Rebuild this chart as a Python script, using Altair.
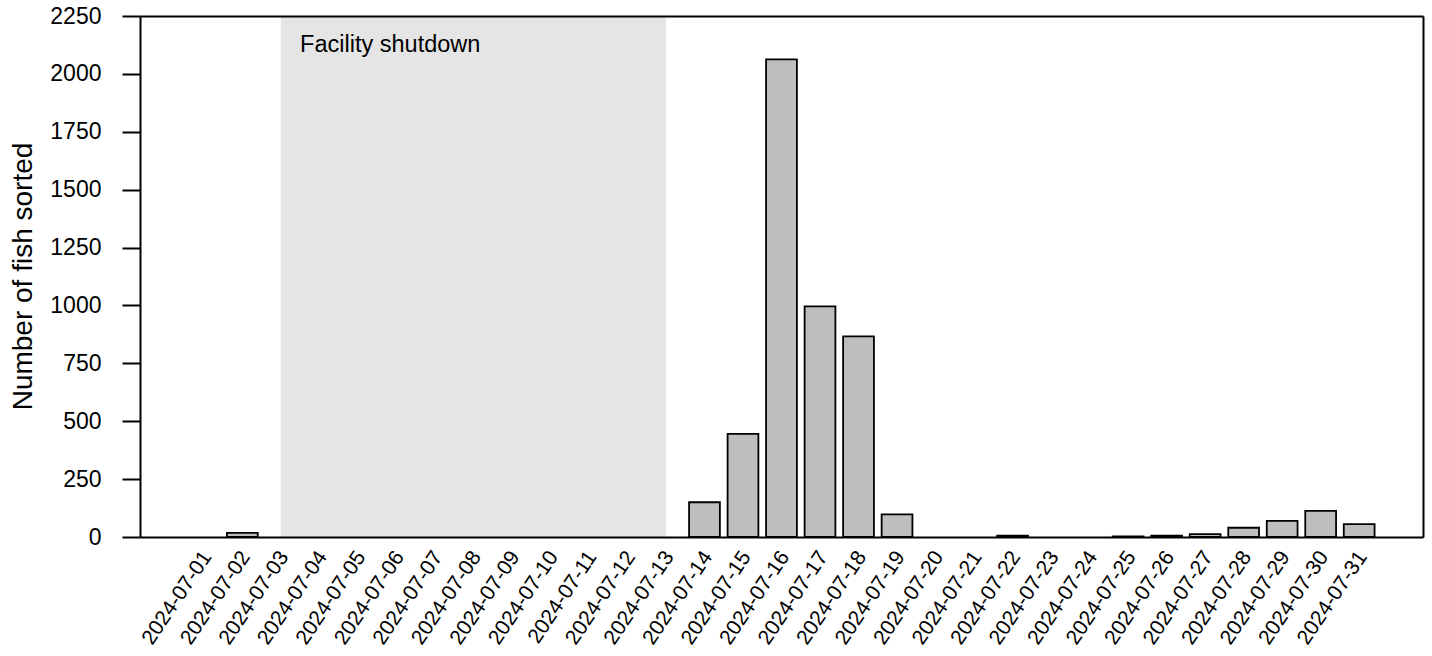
import altair as alt
import pandas as pd

# Daily counts of fish sorted, July 2024 (None = facility closed)
dates = [
    "2024-07-01", "2024-07-02", "2024-07-03", "2024-07-04", "2024-07-05",
    "2024-07-06", "2024-07-07", "2024-07-08", "2024-07-09", "2024-07-10",
    "2024-07-11", "2024-07-12", "2024-07-13", "2024-07-14", "2024-07-15",
    "2024-07-16", "2024-07-17", "2024-07-18", "2024-07-19", "2024-07-20",
    "2024-07-21", "2024-07-22", "2024-07-23", "2024-07-24", "2024-07-25",
    "2024-07-26", "2024-07-27", "2024-07-28", "2024-07-29", "2024-07-30",
    "2024-07-31",
]
fish_sorted = [
    0, 18, 0, None, None, None, None, None, None, None, None, None, 0,
    150, 445, 2063, 996, 866, 98, 0, 0, 6, 0, 0, 3, 6, 12, 40, 70, 113, 56,
]
y_ticks = [0, 250, 500, 750, 1000, 1250, 1500, 1750, 2000, 2250]

shutdown_start = 3   # 2024-07-03
shutdown_end = 13    # 2024-07-13
shutdown_label = "Facility shutdown"
label_day = 3.5
label_count = 2095

FONT = "Liberation Sans"
W, H = 1283, 521

days = [int(d[-2:]) for d in dates]
df = pd.DataFrame({"day": days, "date": dates, "fish": fish_sorted})
shade_df = pd.DataFrame({"start": [shutdown_start], "end": [shutdown_end],
                         "lo": [y_ticks[0]], "hi": [y_ticks[-1]]})
note_df = pd.DataFrame({"x": [label_day], "y": [label_count], "label": [shutdown_label]})

x_scale = alt.Scale(domain=[-0.657, 32.657], nice=False, zero=False, padding=0)
y_scale = alt.Scale(domain=[y_ticks[0], y_ticks[-1]], nice=False, padding=0)

label_lookup = "[" + ",".join(f"'{d}'" for d in dates) + "][datum.value - 1]"

x_axis = alt.Axis(
    orient="bottom", values=days, labelExpr=label_lookup, title=None,
    labelAngle=-56, labelAlign="right", labelBaseline="middle",
    labelFont=FONT, labelFontSize=21, labelColor="black",
    labelPadding=16, labelOffset=3,
    labelOverlap=False, labelBound=False, labelFlush=False,
    ticks=False, tickSize=0, domain=True, domainColor="black", domainWidth=2,
    grid=False, zindex=1,
)
y_axis = alt.Axis(
    orient="left", values=y_ticks, format="d", title="Number of fish sorted",
    labelFont=FONT, labelFontSize=23, labelColor="black", labelPadding=21,
    labelOverlap=False, labelFlush=False,
    ticks=True, tickSize=18, tickWidth=2, tickColor="black",
    domain=True, domainColor="black", domainWidth=2, grid=False,
    titleFont=FONT, titleFontSize=28, titleFontWeight="normal", titleColor="black",
    titleAngle=270, titleAlign="center", titleBaseline="alphabetic",
    titleX=-109, titleY=260, zindex=1,
)
# bare lines closing the frame on the top and right
top_axis = alt.Axis(orient="top", labels=False, ticks=False, title=None, grid=False,
                    domain=True, domainColor="black", domainWidth=2, zindex=1)
right_axis = alt.Axis(orient="right", labels=False, ticks=False, title=None, grid=False,
                      domain=True, domainColor="black", domainWidth=2, zindex=1)

shade = alt.Chart(shade_df).mark_rect(color="#e5e5e5").encode(
    x=alt.X("start:Q", scale=x_scale, axis=x_axis),
    x2="end:Q",
    y=alt.Y("lo:Q", scale=y_scale, axis=y_axis),
    y2="hi:Q",
)

# days with no fish leave only the baseline, so only positive counts get a bar
bars = alt.Chart(df).transform_filter("isValid(datum.fish) && datum.fish > 0").mark_bar(
    width=30.8, fill="#bebebe", stroke="black", strokeWidth=1.8
).encode(
    x=alt.X("day:Q", scale=x_scale, axis=None),
    y=alt.Y("fish:Q", scale=y_scale, axis=None),
)

note = alt.Chart(note_df).mark_text(
    align="left", baseline="alphabetic", font=FONT, fontSize=23.5, color="black"
).encode(
    x=alt.X("x:Q", scale=x_scale, axis=top_axis),
    y=alt.Y("y:Q", scale=y_scale, axis=right_axis),
    text="label:N",
)

chart = alt.layer(shade, bars, note).properties(
    width=W, height=H,
    padding={"left": 140, "top": 16, "right": 9, "bottom": 119},
    autosize="none",
    background="white",
).configure_view(stroke=None)

chart.save("out.html", embed_options={"renderer": "svg", "actions": False})
